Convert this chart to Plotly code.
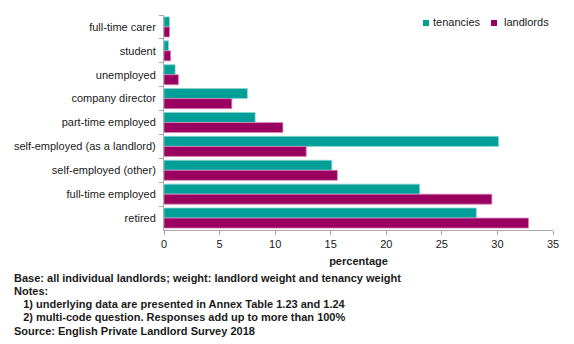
import plotly.graph_objects as go

categories = [
    "full-time carer",
    "student",
    "unemployed",
    "company director",
    "part-time employed",
    "self-employed (as a landlord)",
    "self-employed (other)",
    "full-time employed",
    "retired",
]
tenancies = [0.5, 0.4, 1.0, 7.5, 8.2, 30.1, 15.1, 23.0, 28.1]
landlords = [0.5, 0.6, 1.3, 6.1, 10.7, 12.8, 15.6, 29.5, 32.8]

x_ticks = [0, 5, 10, 15, 20, 25, 30, 35]

notes = [
    "Base: all individual landlords; weight: landlord weight and tenancy weight",
    "Notes:",
    "   1) underlying data are presented in Annex Table 1.23 and 1.24",
    "   2) multi-code question. Responses add up to more than 100%",
    "Source: English Private Landlord Survey 2018",
]

TEAL = "#009f98"
PLUM = "#9a005f"
FONT = "Liberation Sans, Arial, sans-serif"
TEXT = "#1a1a1a"
AXIS = "#a8a8a8"

series = [("tenancies", tenancies, TEAL, "#8fd6d2"),
          ("landlords", landlords, PLUM, "#d58cb8")]

fig = go.Figure()
for name, vals, col, edge in series:
    fig.add_trace(go.Bar(
        y=categories, x=vals, name=name, orientation="h", showlegend=False,
        marker=dict(color=col, line=dict(color=edge, width=0.8)),
    ))

L, R, T, B = 164, 21, 15, 114
W, H = 574, 344
plot_w = W - L - R
plot_h = H - T - B


def px_x(px):
    return (px - L) / plot_w


def px_y(py):
    return (H - B - py) / plot_h


fig.update_layout(
    width=W, height=H,
    margin=dict(l=L, r=R, t=T, b=B, pad=0, autoexpand=False),
    paper_bgcolor="white", plot_bgcolor="white",
    barmode="group", bargap=0.16, bargroupgap=0,
    font=dict(family=FONT, size=11, color=TEXT),
    showlegend=False,
    xaxis=dict(
        range=[0, 35], tickvals=x_ticks, showgrid=False, zeroline=False,
        showline=True, linecolor=AXIS, linewidth=1,
        ticks="outside", ticklen=4, tickcolor=AXIS,
        title=dict(text="<b>percentage</b>", font=dict(size=11), standoff=8),
    ),
    yaxis=dict(
        categoryorder="array", categoryarray=categories, autorange="reversed",
        showgrid=False, zeroline=False,
        showline=True, linecolor=AXIS, linewidth=1,
        ticks="outside", ticklen=4, tickcolor=AXIS, tickson="boundaries",
        ticklabelstandoff=5,
    ),
)

# compact legend: small colour square followed by the series name
legend_pos = [(423, 431), (491, 502)]
for (name, _, col, _), (sq_x, txt_x) in zip(series, legend_pos):
    fig.add_annotation(
        text="", xref="paper", yref="paper",
        x=px_x(sq_x), y=px_y(23), xanchor="left", yanchor="middle",
        width=6, height=6, bgcolor=col, borderpad=0, borderwidth=0,
        showarrow=False, font=dict(size=4),
    )
    fig.add_annotation(
        text=name, xref="paper", yref="paper",
        x=px_x(txt_x), y=px_y(22.5), xanchor="left", yanchor="middle",
        showarrow=False, font=dict(size=11, color=TEXT),
    )

# footnotes below the chart, one line each
line_y = [278, 291, 304, 317, 331]
for text, py in zip(notes, line_y):
    fig.add_annotation(
        text="<b>" + text.replace("   ", "&nbsp;&nbsp;&nbsp;") + "</b>",
        xref="paper", yref="paper",
        x=px_x(12), y=px_y(py),
        xanchor="left", yanchor="middle", showarrow=False,
        font=dict(size=11, color=TEXT),
    )

fig.write_html("out.html")
